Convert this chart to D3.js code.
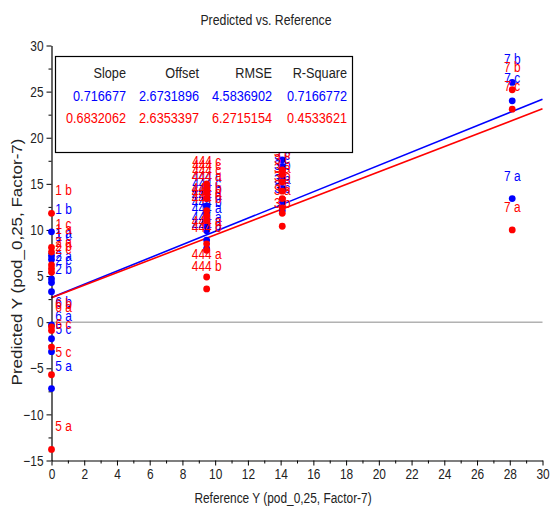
<!DOCTYPE html>
<html>
<head>
<meta charset="utf-8">
<script src="https://cdn.jsdelivr.net/npm/d3@7"></script>
<style>
  html, body { margin: 0; padding: 0; background: #fff; }
  svg text { font-family: "Liberation Sans", Arial, sans-serif; }
</style>
</head>
<body>
<svg id="chart" width="550" height="515"></svg>
<script>
// Axis ticks
const xTickValues = [0, 2, 4, 6, 8, 10, 12, 14, 16, 18, 20, 22, 24, 26, 28, 30];
const xMinorTicks = [1, 3, 5, 7, 9, 11, 13, 15, 17, 19, 21, 23, 25, 27, 29];
const yTickValues = [-15, -10, -5, 0, 5, 10, 15, 20, 25, 30];
const yMinorTicks = [-12.5, -7.5, -2.5, 2.5, 7.5, 12.5, 17.5, 22.5, 27.5];

// Regression statistics (calibration in blue, validation in red)
const statHeaders = ["Slope", "Offset", "RMSE", "R-Square"];
const blueStats = ["0.716677", "2.6731896", "4.5836902", "0.7166772"];
const redStats = ["0.6832062", "2.6353397", "6.2715154", "0.4533621"];

// Calibration samples
const blueLabels = ["1 b", "1 a", "1 c", "2 a", "2 c", "2 b", "6 b", "6 a", "5 c", "5 a",
  "444 c", "444 c", "444 b", "444 a", "444 b", "444 a", "444 a", "444 a",
  "3 b", "3 a", "3 c", "3 b", "3 a", "3 c",
  "7 b", "7 c", "7 a"];
const blueRef = [0, 0, 0, 0, 0, 0, 0, 0, 0, 0,
  9.48, 9.48, 9.48, 9.48, 9.48, 9.48, 9.48, 9.48,
  14.1, 14.1, 14.1, 14.1, 14.1, 14.1,
  28.15, 28.15, 28.15];
const bluePred = [9.8, 7.2, 6.8, 4.7, 4.3, 3.3, -0.3, -1.8, -3.2, -7.2,
  13.4, 12.6, 11.9, 11.3, 10.5, 9.9, 8.9, 8.0,
  17.6, 16.9, 15.6, 14.5, 13.0, 12.1,
  26.0, 24.0, 13.4];

// Validation samples
const redLabels = ["1 b", "1 c", "1 a", "2 a", "2 b", "2 c", "6 b", "6 a", "6 c", "5 c", "5 a",
  "444 c", "444 c", "444 c", "444 a", "444 b", "444 a", "444 b", "444 a", "444 b", "444 a", "444 b",
  "3 a", "3 b", "3 c", "3 a", "3 b", "3 c", "3 a", "3 b",
  "7 b", "7 c", "7 a"];
const redRef = [0, 0, 0, 0, 0, 0, 0, 0, 0, 0, 0,
  9.48, 9.48, 9.48, 9.48, 9.48, 9.48, 9.48, 9.48, 9.48, 9.48, 9.48,
  14.1, 14.1, 14.1, 14.1, 14.1, 14.1, 14.1, 14.1,
  28.15, 28.15, 28.15];
const redPred = [11.8, 8.1, 7.6, 6.2, 5.8, 5.4, -0.5, -0.9, -2.7, -5.7, -13.8,
  15.0, 14.5, 14.0, 13.4, 12.1, 11.6, 11.0, 8.5, 7.8, 4.9, 3.6,
  16.5, 16.0, 15.2, 14.2, 13.4, 12.4, 11.8, 10.4,
  25.2, 23.1, 10.0];

const BLUE = "#0000ff";
const RED = "#ff0000";
const NARROW = 0.82; // horizontal squeeze for a condensed look

const svg = d3.select("#chart");
const x = d3.scaleLinear().domain([0, 30]).range([51.5, 542.5]);
const y = d3.scaleLinear().domain([-15, 30]).range([460.5, 45.5]);

// squeeze text horizontally around its own anchor point
function narrow(sel) {
  sel.each(function () {
    const t = d3.select(this);
    const tx = +t.attr("x") || 0, ty = +t.attr("y") || 0;
    t.attr("x", 0).attr("y", 0)
      .attr("transform", `translate(${tx},${ty}) scale(${NARROW},1)`);
  });
}

const plot = svg.append("g");

// zero reference line
plot.append("line")
  .attr("x1", x(0)).attr("x2", x(30))
  .attr("y1", y(0)).attr("y2", y(0))
  .attr("stroke", "#8a8a8a").attr("stroke-width", 1);

// regression lines from slope and offset
const fits = [
  { stats: blueStats, color: BLUE },
  { stats: redStats, color: RED }
];
fits.forEach(f => {
  const slope = +f.stats[0], offset = +f.stats[1];
  plot.append("line")
    .attr("x1", x(0)).attr("y1", y(offset))
    .attr("x2", x(30)).attr("y2", y(offset + slope * 30))
    .attr("stroke", f.color).attr("stroke-width", 1.6);
});

// axes
function styleAxis(g) {
  g.selectAll("path.domain").attr("stroke", "#000").attr("stroke-width", 1.2);
  g.selectAll(".tick line").attr("stroke", "#000").attr("stroke-width", 1);
  g.selectAll(".tick text").attr("fill", "#222").style("font-size", "14.5px").call(narrow);
}
const yAxisG = svg.append("g").attr("transform", `translate(${x(0)},0)`)
  .call(d3.axisLeft(y).tickValues(yTickValues).tickSize(5).tickSizeOuter(0).tickPadding(3).tickFormat(d3.format("d")));
styleAxis(yAxisG);
svg.append("g").attr("transform", `translate(${x(0)},0)`)
  .call(d3.axisLeft(y).tickValues(yMinorTicks).tickSize(3).tickFormat(""))
  .call(g => { g.select("path.domain").remove(); g.selectAll(".tick line").attr("stroke", "#000"); });

const xAxisG = svg.append("g").attr("transform", `translate(0,${y(-15)})`)
  .call(d3.axisBottom(x).tickValues(xTickValues).tickSize(5).tickSizeOuter(0).tickPadding(3).tickFormat(d3.format("d")));
styleAxis(xAxisG);
svg.append("g").attr("transform", `translate(0,${y(-15)})`)
  .call(d3.axisBottom(x).tickValues(xMinorTicks).tickSize(3).tickFormat(""))
  .call(g => { g.select("path.domain").remove(); g.selectAll(".tick line").attr("stroke", "#000"); });

// sample points and labels
function drawSeries(labels, ref, pred, color) {
  const data = labels.map((l, i) => ({ label: l, ref: ref[i], pred: pred[i] }));
  const g = svg.append("g");
  g.selectAll("circle").data(data).join("circle")
    .attr("cx", d => x(d.ref)).attr("cy", d => y(d.pred))
    .attr("r", 3.4).attr("fill", color);
  g.selectAll("text").data(data).join("text")
    .attr("x", d => Math.max(x(d.ref), x(0) + 12))
    .attr("y", d => y(d.pred) - 18)
    .attr("text-anchor", "middle")
    .attr("fill", color)
    .style("font-size", "14.5px")
    .text(d => d.label)
    .call(narrow);
}
drawSeries(blueLabels, blueRef, bluePred, BLUE);
drawSeries(redLabels, redRef, redPred, RED);

// statistics table
const box = svg.append("g");
box.append("rect")
  .attr("x", 55.5).attr("y", 56.5).attr("width", 297).attr("height", 96)
  .attr("fill", "#fff").attr("stroke", "#000").attr("stroke-width", 1.2);
const colRight = [126, 199, 272, 347];
const rows = [
  { vals: statHeaders, color: "#222", base: 78 },
  { vals: blueStats, color: BLUE, base: 101 },
  { vals: redStats, color: RED, base: 123 }
];
rows.forEach(r => {
  box.selectAll(null).data(r.vals).join("text")
    .attr("x", (d, i) => colRight[i]).attr("y", r.base)
    .attr("text-anchor", "end")
    .attr("fill", r.color)
    .style("font-size", "15.5px")
    .text(d => d)
    .call(narrow);
});

// titles
svg.append("text")
  .attr("x", 266).attr("y", 25).attr("text-anchor", "middle")
  .attr("fill", "#222").style("font-size", "15px")
  .text("Predicted vs. Reference")
  .call(narrow);
svg.append("text")
  .attr("x", 283).attr("y", 503).attr("text-anchor", "middle")
  .attr("fill", "#222").style("font-size", "14.5px")
  .text("Reference Y (pod_0,25, Factor-7)")
  .call(narrow);
svg.append("text")
  .attr("transform", "translate(22,262) scale(0.85,1) rotate(-90)")
  .attr("text-anchor", "middle")
  .attr("fill", "#222")
  .style("font-size", "17px")
  .text("Predicted Y (pod_0,25, Factor-7)");
</script>
</body>
</html>
